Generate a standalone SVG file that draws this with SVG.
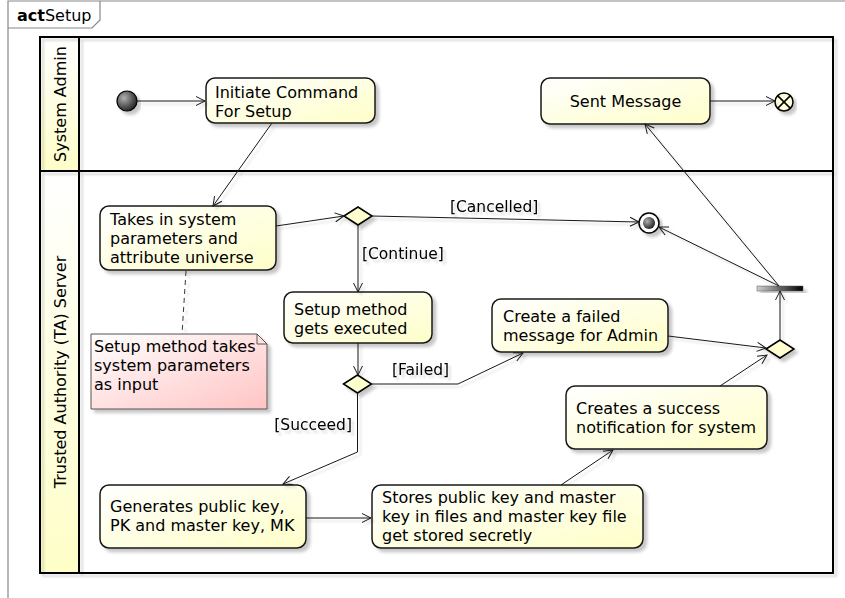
<svg xmlns="http://www.w3.org/2000/svg" width="845" height="598" viewBox="0 0 845 598">
<defs>
<style>
text{font-family:"DejaVu Sans","Noto Sans",sans-serif;font-size:16px;fill:#000}
.lbl{font-size:15.5px}
.box{stroke:#181818;stroke-width:1.5;fill:url(#gAct);filter:url(#sh)}
.c{fill:none;stroke:#181818;stroke-width:1;marker-end:url(#ah)}
.lane{fill:none;stroke:#000;stroke-width:2}
.frame{fill:none;stroke:#888;stroke-width:1.2}
</style>
<linearGradient id="gAct" x1="0" y1="0" x2="1" y2="1"><stop offset="0" stop-color="#ffffff"/><stop offset="1" stop-color="#fefec8"/></linearGradient>
<linearGradient id="gHead" x1="0" y1="0" x2="0" y2="1"><stop offset="0" stop-color="#ffffff"/><stop offset="1" stop-color="#fefec8"/></linearGradient>
<linearGradient id="gNote" x1="0" y1="0" x2="1" y2="1"><stop offset="0" stop-color="#ffffff"/><stop offset="1" stop-color="#ffc4c4"/></linearGradient>
<linearGradient id="gBar" x1="0" y1="0" x2="1" y2="0"><stop offset="0" stop-color="#d0d0d0"/><stop offset="1" stop-color="#000"/></linearGradient>
<radialGradient id="gStart" cx="0.35" cy="0.35" r="0.7"><stop offset="0" stop-color="#b0b0b0"/><stop offset="1" stop-color="#202020"/></radialGradient>
<filter id="sh" x="-10%" y="-10%" width="130%" height="140%"><feDropShadow dx="3.5" dy="3.5" stdDeviation="1.5" flood-color="#000" flood-opacity="0.22"/></filter>
<filter id="shl" x="-10%" y="-10%" width="130%" height="140%"><feDropShadow dx="3" dy="3" stdDeviation="1" flood-color="#000" flood-opacity="0.15"/></filter>
<marker id="ah" markerUnits="userSpaceOnUse" markerWidth="12" markerHeight="12" refX="9" refY="4.5" orient="auto" viewBox="-1 -1 12 12"><path d="M0,0 L9,4.5 L0,9" fill="none" stroke="#181818" stroke-width="1"/></marker>
</defs>
<rect width="845" height="598" fill="#fff"/>

<g id="frame">
<path class="frame" d="M8,598 L8,1 L845,1"/>
<path class="frame" d="M8,28 L92,28 L100,20 L100,1"/>
<text x="17" y="21"><tspan font-weight="bold">act</tspan>Setup</text>
</g>

<g id="lanes">
<rect x="40" y="37" width="39" height="134" fill="url(#gHead)"/>
<rect x="40" y="171" width="39" height="402" fill="url(#gHead)"/>
<g filter="url(#shl)">
<rect class="lane" x="40" y="37" width="793" height="536"/>
<line class="lane" x1="40" y1="171" x2="833" y2="171"/>
<line class="lane" x1="79" y1="37" x2="79" y2="573"/>
</g>
<text transform="translate(66,104) rotate(-90)" text-anchor="middle">System Admin</text>
<text transform="translate(66,372) rotate(-90)" text-anchor="middle">Trusted Authority (TA) Server</text>
</g>

<g id="start"><circle cx="127" cy="101" r="10" fill="url(#gStart)" stroke="#000" stroke-width="1.2" filter="url(#sh)"/></g>

<g id="initiate"><rect class="box" x="206" y="78" width="169" height="45" rx="9"/>
<text x="215" y="98">Initiate Command</text><text x="215" y="117">For Setup</text></g>

<g id="sent"><rect class="box" x="541" y="78" width="169" height="46" rx="9"/>
<text x="625.5" y="107" text-anchor="middle">Sent Message</text></g>

<g id="flowend"><circle cx="784" cy="102" r="9" fill="#fefed8" stroke="#000" stroke-width="1.5" filter="url(#sh)"/>
<path d="M777.6,95.6 L790.4,108.4 M790.4,95.6 L777.6,108.4" stroke="#000" stroke-width="1.5"/></g>

<g id="takes"><rect class="box" x="100" y="206" width="176" height="64" rx="9"/>
<text x="110" y="225">Takes in system</text><text x="110" y="244">parameters and</text><text x="110" y="263">attribute universe</text></g>

<g id="d1"><path d="M344,216 L358,207 L372,216 L358,225 Z" fill="#fefece" stroke="#000" stroke-width="1.5" filter="url(#sh)"/></g>

<g id="final"><circle cx="649" cy="223" r="10" fill="#fff" stroke="#000" stroke-width="1.5" filter="url(#sh)"/>
<circle cx="649" cy="223" r="6" fill="url(#gStart)"/></g>

<g id="setup"><rect class="box" x="284" y="292" width="148" height="51" rx="9"/>
<text x="294" y="315">Setup method</text><text x="294" y="334">gets executed</text></g>

<g id="d2"><path d="M343.5,384 L357.5,375 L371.5,384 L357.5,393 Z" fill="#fefece" stroke="#000" stroke-width="1.5" filter="url(#sh)"/></g>

<g id="failed"><rect class="box" x="492" y="299" width="176" height="53" rx="9"/>
<text x="503" y="322">Create a failed</text><text x="503" y="341">message for Admin</text></g>

<g id="d3"><path d="M766,349 L780,340 L794,349 L780,358 Z" fill="#fefece" stroke="#000" stroke-width="1.5" filter="url(#sh)"/></g>

<g id="bar"><rect x="757" y="286" width="46" height="5" fill="url(#gBar)" stroke="#555" stroke-width="0.5" filter="url(#sh)"/></g>

<g id="note"><path d="M91,334 L257,334 L267,344 L267,409 L91,409 Z" fill="url(#gNote)" stroke="#555" stroke-width="1" filter="url(#sh)"/>
<path d="M257,334 L257,344 L267,344" fill="none" stroke="#555" stroke-width="1"/>
<text x="94" y="352">Setup method takes</text><text x="94" y="371">system parameters</text><text x="94" y="390">as input</text></g>

<g id="success"><rect class="box" x="566" y="386" width="201" height="63" rx="9"/>
<text x="576" y="414">Creates a success</text><text x="576" y="433">notification for system</text></g>

<g id="generates"><rect class="box" x="100" y="485" width="206" height="63" rx="9"/>
<text x="110" y="512">Generates public key,</text><text x="110" y="531">PK and master key, MK</text></g>

<g id="stores"><rect class="box" x="372" y="485" width="271" height="63" rx="9"/>
<text x="382" y="503">Stores public key and master</text><text x="382" y="522">key in files and master key file</text><text x="382" y="541">get stored secretly</text></g>

<g id="connectors" filter="url(#shl)">
<path class="c" d="M137,101 L205,101"/>
<path class="c" d="M272,123 L213,206"/>
<path class="c" d="M276,226 L344,216"/>
<path class="c" d="M372,216 L639,222"/>
<path class="c" d="M358,225 L358,292"/>
<path class="c" d="M358,343 L358,375"/>
<path class="c" d="M371.5,384 L458,384 L523,353"/>
<path class="c" d="M357.5,393 L357.5,452 L283,484"/>
<path class="c" d="M306,518 L371,518"/>
<path class="c" d="M561,485 L613,450"/>
<path class="c" d="M720,386 L767,355"/>
<path class="c" d="M668,336 L766,348"/>
<path class="c" d="M780,340 L780,291"/>
<path class="c" d="M779,286 L659,227"/>
<path class="c" d="M779,286 L645,124"/>
<path class="c" d="M710,101 L775,101"/>
<path d="M186,271 L182,334" fill="none" stroke="#333" stroke-width="1" stroke-dasharray="5,4"/>
<text class="lbl" x="450" y="212">[Cancelled]</text>
<text class="lbl" x="362" y="259">[Continue]</text>
<text class="lbl" x="392" y="375">[Failed]</text>
<text class="lbl" x="352" y="430" text-anchor="end">[Succeed]</text>
</g>
</svg>
